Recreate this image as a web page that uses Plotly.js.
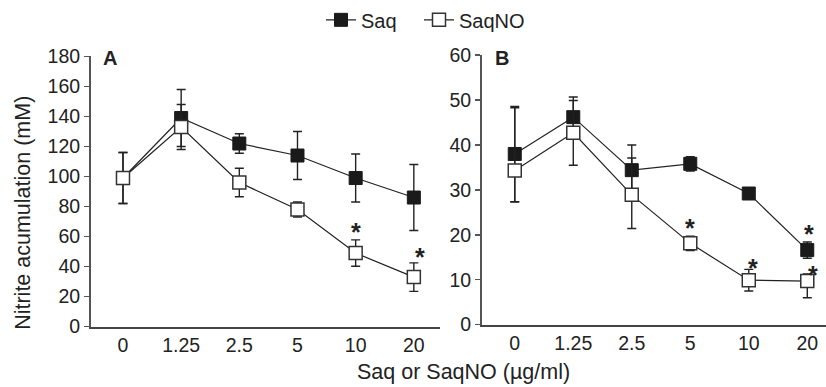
<!DOCTYPE html>
<html>
<head>
<meta charset="utf-8">
<script src="https://cdn.plot.ly/plotly-3.0.1.min.js"></script>
<style>html,body{margin:0;padding:0;background:#fff;}#chart{width:826px;height:387px;}</style>
</head>
<body>
<div id="chart"></div>
<script>
// Categories (concentration, µg/ml)
const categories = ["0", "1.25", "2.5", "5", "10", "20"];

// Panel A (nitrite, mM)
const saqA = [99, 139, 122, 114, 99, 86];
const saqA_err = [17, 19, 6.5, 16, 16, 22];
const saqnoA = [99, 133, 96, 78, 49, 33];
const saqnoA_err = [17, 15, 9.5, 5, 8.8, 9.5];

// Panel B
const saqB = [38, 46.2, 34.4, 35.8, 29.2, 16.6];
const saqB_err = [10.6, 4.5, 5.6, 1.6, 0.7, 1.8];
const saqnoB = [34.3, 42.7, 28.9, 18.1, 9.9, 9.7];
const saqnoB_errPlus = [14, 7.2, 8.2, 1.6, 2.4, 1.6];
const saqnoB_errMinus = [7, 7.2, 7.5, 1.6, 2.4, 3.7];

// Significance asterisks: [category, y]
const starsA_cat = ["10", "20"];
const starsA_y = [65.6, 49];
const starsB_cat = ["5", "10", "20", "20"];
const starsB_y = [22.3, 13.4, 21.1, 11.9];

const seriesNames = ["Saq", "SaqNO"];
const panelLabels = ["A", "B"];
const xTitle = "Saq or SaqNO (µg/ml)";
const yTitle = "Nitrite acumulation (mM)";

const FONT = "Liberation Sans, Arial, sans-serif";
const INK = "#222";
const W = 826, H = 387;

function errBar(plus, minus) {
  const e = {type: "data", array: plus, visible: true, color: INK, thickness: 1.4, width: 4.5};
  if (minus) { e.symmetric = false; e.arrayminus = minus; }
  return e;
}
function saqTrace(y, err, xa, ya, show) {
  return {x: categories, y: y, xaxis: xa, yaxis: ya, name: seriesNames[0], showlegend: show, legend: "legend",
    mode: "lines+markers", type: "scatter",
    line: {color: INK, width: 1.2},
    marker: {symbol: "square", size: 13, color: "#1a1a1a", line: {color: "#1a1a1a", width: 1}},
    error_y: err};
}
function saqnoTrace(y, err, xa, ya, show) {
  return {x: categories, y: y, xaxis: xa, yaxis: ya, name: seriesNames[1], showlegend: show, legend: "legend2",
    mode: "lines+markers", type: "scatter",
    line: {color: INK, width: 1.2},
    marker: {symbol: "square", size: 13, color: "#ffffff", line: {color: "#333", width: 1.5}},
    error_y: err};
}

const data = [
  saqTrace(saqA, errBar(saqA_err), "x", "y", true),
  saqnoTrace(saqnoA, errBar(saqnoA_err), "x", "y", true),
  saqTrace(saqB, errBar(saqB_err), "x2", "y2", false),
  saqnoTrace(saqnoB, errBar(saqnoB_errPlus, saqnoB_errMinus), "x2", "y2", false)
];

const tickfont = {family: FONT, size: 19.5, color: INK};
function xax(domain, range, anchor) {
  return {domain: domain, range: range, type: "category", anchor: anchor,
    showline: true, linewidth: 2, linecolor: "#444", ticks: "", showgrid: false, zeroline: false,
    tickfont: tickfont, fixedrange: true};
}
function yax(domain, range, dtick, anchor) {
  return {domain: domain, range: range, dtick: dtick, anchor: anchor,
    showline: true, linewidth: 2, linecolor: "#555", ticks: "outside", ticklen: 5, tickwidth: 1.5,
    tickcolor: "#555", showgrid: false, zeroline: false, tickfont: tickfont, fixedrange: true};
}

const annotations = [];
// stars (x as category index so numeric-looking labels are not misread)
const starFont = {family: FONT, size: 25, color: INK};
const starShiftA = [0, 6];
starsA_cat.forEach((c, i) => annotations.push({x: categories.indexOf(c), y: starsA_y[i], xref: "x", yref: "y",
  text: "<b>*</b>", showarrow: false, xanchor: "center", yanchor: "middle", xshift: starShiftA[i], yshift: -4, font: starFont}));
const starShiftB = [0, 4, 2, 6];
starsB_cat.forEach((c, i) => annotations.push({x: categories.indexOf(c), y: starsB_y[i], xref: "x2", yref: "y2",
  text: "<b>*</b>", showarrow: false, xanchor: "center", yanchor: "middle", xshift: starShiftB[i], yshift: -4, font: starFont}));
// panel labels
annotations.push({x: 110 / W, y: 1 - 55 / H, xref: "paper", yref: "paper", text: "<b>" + panelLabels[0] + "</b>",
  showarrow: false, xanchor: "center", yanchor: "middle", font: {family: FONT, size: 20, color: INK}});
annotations.push({x: 502 / W, y: 1 - 55 / H, xref: "paper", yref: "paper", text: "<b>" + panelLabels[1] + "</b>",
  showarrow: false, xanchor: "center", yanchor: "middle", font: {family: FONT, size: 20, color: INK}});
// axis titles
annotations.push({x: 23 / W, y: 1 - 211 / H, xref: "paper", yref: "paper", text: yTitle, textangle: -90,
  showarrow: false, xanchor: "center", yanchor: "middle", font: {family: FONT, size: 21.5, color: INK}});
annotations.push({x: 463 / W, y: 1 - 372 / H, xref: "paper", yref: "paper", text: xTitle,
  showarrow: false, xanchor: "center", yanchor: "middle", font: {family: FONT, size: 21.5, color: INK}});

const legFont = {family: FONT, size: 20, color: INK};
const layout = {
  width: W, height: H,
  margin: {l: 0, r: 0, t: 0, b: 0},
  paper_bgcolor: "#fff", plot_bgcolor: "rgba(0,0,0,0)",
  font: {family: FONT, color: INK},
  showlegend: true,
  legend: {orientation: "h", x: 321 / W, xanchor: "left", y: 1 - 16 / H, yanchor: "middle",
    font: legFont, bgcolor: "rgba(0,0,0,0)"},
  legend2: {orientation: "h", x: 419 / W, xanchor: "left", y: 1 - 16 / H, yanchor: "middle",
    font: legFont, bgcolor: "rgba(0,0,0,0)"},
  xaxis: xax([91 / W, 440 / W], [-0.55, 5.45], "y"),
  yaxis: yax([1 - 326 / H, 1 - 53 / H], [0, 180], 20, "x"),
  xaxis2: xax([482 / W, 1], [-0.56, 5.32], "y2"),
  yaxis2: yax([1 - 324 / H, 1 - 51.7 / H], [0, 60], 10, "x2"),
  annotations: annotations
};

Plotly.newPlot("chart", data, layout, {staticPlot: true, displayModeBar: false});
</script>
</body>
</html>
